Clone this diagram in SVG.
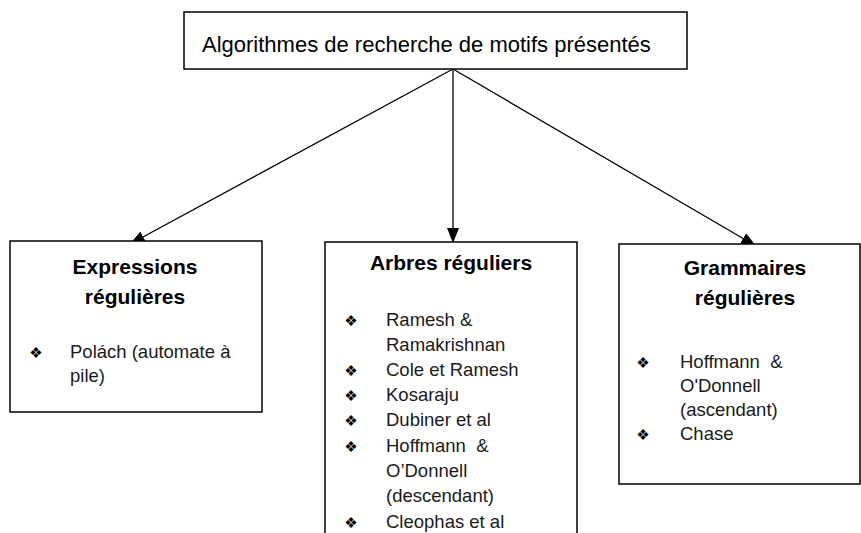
<svg xmlns="http://www.w3.org/2000/svg" width="861" height="533" viewBox="0 0 861 533">
<style>
.box{fill:#fff;stroke:#000;stroke-width:1.5}
.conn{stroke:#000;stroke-width:1.3;fill:none}
.t{font-family:"Liberation Sans",Arial,sans-serif;font-size:18.5px;fill:#1a1a1a;white-space:pre}
.h{font-family:"Liberation Sans",Arial,sans-serif;font-size:21px;font-weight:bold;fill:#000;text-anchor:middle}
.top{font-family:"Liberation Sans",Arial,sans-serif;font-size:22px;fill:#000}
.b{font-family:"DejaVu Sans",sans-serif;font-size:15px;fill:#000;text-anchor:middle}
</style>
<defs>
<marker id="ah" viewBox="0 0 15 12" refX="15" refY="6" markerWidth="15" markerHeight="12" markerUnits="userSpaceOnUse" orient="auto">
<path d="M0,0 L15,6 L0,12 Z" fill="#000"/>
</marker>
</defs>
<g id="connectors">
<line class="conn" x1="453" y1="69" x2="130" y2="244" marker-end="url(#ah)"/>
<line class="conn" x1="453" y1="69" x2="453" y2="243" marker-end="url(#ah)"/>
<line class="conn" x1="453" y1="69" x2="756" y2="246" marker-end="url(#ah)"/>
</g>
<g id="root">
<rect class="box" x="184" y="12" width="503" height="57"/>
<text class="top" x="202" y="52">Algorithmes de recherche de motifs présentés</text>
</g>
<g id="expressions">
<rect class="box" x="10" y="241" width="252" height="171"/>
<text class="h" x="135" y="274">Expressions</text>
<text class="h" x="135" y="304">régulières</text>
<text class="b" x="36" y="358">❖</text>
<text class="t" x="70" y="358">Polách (automate à</text>
<text class="t" x="70" y="382">pile)</text>
</g>
<g id="arbres">
<rect class="box" x="325" y="242" width="252" height="310"/>
<text class="h" x="451" y="270">Arbres réguliers</text>
<text class="b" x="351" y="326">❖</text>
<text class="t" x="386" y="326">Ramesh &amp;</text>
<text class="t" x="386" y="351">Ramakrishnan</text>
<text class="b" x="351" y="376">❖</text>
<text class="t" x="386" y="376">Cole et Ramesh</text>
<text class="b" x="351" y="401">❖</text>
<text class="t" x="386" y="401">Kosaraju</text>
<text class="b" x="351" y="426">❖</text>
<text class="t" x="386" y="426">Dubiner et al</text>
<text class="b" x="351" y="452">❖</text>
<text class="t" x="386" y="452" xml:space="preserve">Hoffmann  &amp;</text>
<text class="t" x="386" y="477">O’Donnell</text>
<text class="t" x="386" y="502">(descendant)</text>
<text class="b" x="351" y="528">❖</text>
<text class="t" x="386" y="528">Cleophas et al</text>
</g>
<g id="grammaires">
<rect class="box" x="619" y="244" width="241" height="240"/>
<text class="h" x="745" y="275">Grammaires</text>
<text class="h" x="745" y="305">régulières</text>
<text class="b" x="643" y="368">❖</text>
<text class="t" x="680" y="368" xml:space="preserve">Hoffmann  &amp;</text>
<text class="t" x="680" y="392">O'Donnell</text>
<text class="t" x="680" y="416">(ascendant)</text>
<text class="b" x="643" y="440">❖</text>
<text class="t" x="680" y="440">Chase</text>
</g>
</svg>
